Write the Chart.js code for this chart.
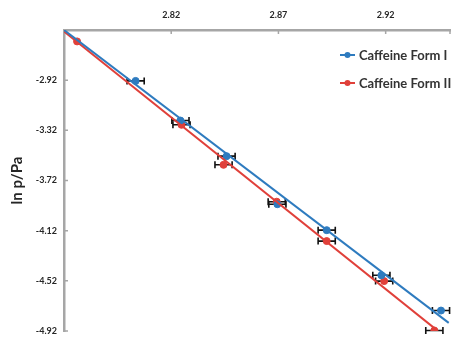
<!DOCTYPE html>
<html>
<head>
<meta charset="utf-8">
<script src="https://cdn.jsdelivr.net/npm/chart.js@4/dist/chart.umd.min.js"></script>
<style>
  body { margin: 0; background: #fff; }
  #wrap { width: 461px; height: 351px; }
</style>
</head>
<body>
<div id="wrap"><canvas id="chart" width="461" height="351"></canvas></div>
<script>
// --- data ---
const formIX = [2.8034, 2.8243, 2.8458, 2.8695, 2.8925, 2.9180, 2.9458];
const formIY = [-2.926, -3.242, -3.526, -3.909, -4.116, -4.476, -4.757];
const formIErr = [0.004, 0.004, 0.004, 0.004, 0.004, 0.004, 0.004];

const formIIX = [2.7761, 2.8248, 2.8444, 2.8692, 2.8925, 2.9193, 2.9427];
const formIIY = [-2.611, -3.276, -3.595, -3.889, -4.203, -4.522, -4.916];
const formIIErr = [0, 0.004, 0.004, 0.004, 0.004, 0.004, 0.004];

// linear trend lines (end points)
const trendIX = [2.77, 2.9494];
const trendIY = [-2.52, -4.855];
const trendIIX = [2.77, 2.944];
const trendIIY = [-2.532, -4.915];

const xTicks = [2.82, 2.87, 2.92];
const yTicks = [-4.92, -4.52, -4.12, -3.72, -3.32, -2.92];

const seriesNames = ["Caffeine Form I", "Caffeine Form II"];
const BLUE = "#2e7bbf";
const RED = "#e0403a";
const AXIS = "#a6a6a6";
const TEXT = "#262626";

const toPts = (xs, ys) => xs.map((x, i) => ({ x: x, y: ys[i] }));

// horizontal error bars, drawn under the points
const errorBars = {
  id: "errorBars",
  beforeDatasetsDraw(chart) {
    const { ctx, scales: { x, y } } = chart;
    ctx.save();
    ctx.strokeStyle = "#111";
    ctx.lineWidth = 1.6;
    [[formIX, formIY, formIErr], [formIIX, formIIY, formIIErr]].forEach(([xs, ys, es]) => {
      xs.forEach((v, i) => {
        if (!es[i]) return;
        const x0 = x.getPixelForValue(v - es[i]);
        const x1 = x.getPixelForValue(v + es[i]);
        const py = y.getPixelForValue(ys[i]);
        ctx.beginPath();
        ctx.moveTo(x0, py); ctx.lineTo(x1, py);
        ctx.moveTo(x0, py - 3.5); ctx.lineTo(x0, py + 3.5);
        ctx.moveTo(x1, py - 3.5); ctx.lineTo(x1, py + 3.5);
        ctx.stroke();
      });
    });
    ctx.restore();
  }
};

// small inward tick marks on both axes
const innerTicks = {
  id: "innerTicks",
  afterDraw(chart) {
    const { ctx, chartArea, scales: { x, y } } = chart;
    ctx.save();
    ctx.strokeStyle = AXIS;
    ctx.lineWidth = 1.5;
    ctx.beginPath();
    xTicks.concat([2.95]).forEach(v => {
      const px = x.getPixelForValue(v);
      ctx.moveTo(px, chartArea.top); ctx.lineTo(px, chartArea.top + 4);
    });
    yTicks.forEach(v => {
      const py = y.getPixelForValue(v);
      ctx.moveTo(chartArea.left, py); ctx.lineTo(chartArea.left + 4, py);
    });
    ctx.stroke();
    ctx.restore();
  }
};

// legend inside the plot, top right: line with a dot, then the name
const insideLegend = {
  id: "insideLegend",
  afterDraw(chart) {
    const { ctx, chartArea } = chart;
    const x0 = chartArea.right - 110;
    const y0 = chartArea.top + 25;
    ctx.save();
    ctx.font = "bold 13px Lato, 'Open Sans', sans-serif";
    ctx.textBaseline = "middle";
    [BLUE, RED].forEach((c, i) => {
      const yy = y0 + i * 28;
      ctx.strokeStyle = c;
      ctx.lineWidth = 2;
      ctx.beginPath();
      ctx.moveTo(x0, yy); ctx.lineTo(x0 + 15, yy);
      ctx.stroke();
      ctx.fillStyle = c;
      ctx.beginPath();
      ctx.arc(x0 + 7.5, yy, 3, 0, Math.PI * 2);
      ctx.fill();
      ctx.fillStyle = "#333";
      ctx.fillText(seriesNames[i], x0 + 19, yy + 1);
    });
    ctx.restore();
  }
};

new Chart(document.getElementById("chart"), {
  type: "scatter",
  data: {
    datasets: [
      { label: "trend I", data: toPts(trendIX, trendIY), showLine: true, borderColor: BLUE,
        borderWidth: 2, pointRadius: 0 },
      { label: "trend II", data: toPts(trendIIX, trendIIY), showLine: true, borderColor: RED,
        borderWidth: 2, pointRadius: 0 },
      { label: seriesNames[0], data: toPts(formIX, formIY), backgroundColor: BLUE,
        borderColor: BLUE, pointRadius: 3.5 },
      { label: seriesNames[1], data: toPts(formIIX, formIIY), backgroundColor: RED,
        borderColor: RED, pointRadius: 3.5 }
    ]
  },
  options: {
    responsive: false,
    animation: false,
    layout: { padding: { left: 0, top: 0, right: 11, bottom: 20 } },
    plugins: { legend: { display: false }, tooltip: { enabled: false } },
    scales: {
      x: {
        type: "linear",
        position: "top",
        min: 2.77,
        max: 2.95,
        afterBuildTicks: s => { s.ticks = xTicks.map(v => ({ value: v })); },
        afterFit: s => { s.height = 30; },
        grid: { display: false, drawTicks: false },
        border: { display: true, color: AXIS, width: 2.5 },
        ticks: {
          padding: 10,
          color: TEXT,
          font: { family: "Lato, 'Open Sans', sans-serif", size: 9, weight: "bold" },
          callback: v => v.toFixed(2)
        }
      },
      y: {
        type: "linear",
        min: -4.92,
        max: -2.52,
        afterBuildTicks: s => { s.ticks = yTicks.map(v => ({ value: v })); },
        afterFit: s => { s.width = 64; },
        grid: { display: false, drawTicks: false },
        border: { display: true, color: AXIS, width: 2.5 },
        title: {
          display: true,
          text: "ln p/Pa",
          color: TEXT,
          padding: { top: 8, bottom: 0 },
          font: { family: "Lato, 'Open Sans', sans-serif", size: 15, weight: "bold" }
        },
        ticks: {
          padding: 7,
          color: TEXT,
          font: { family: "Lato, 'Open Sans', sans-serif", size: 9, weight: "bold" },
          callback: v => v.toFixed(2)
        }
      }
    }
  },
  plugins: [errorBars, innerTicks, insideLegend]
});
</script>
</body>
</html>
